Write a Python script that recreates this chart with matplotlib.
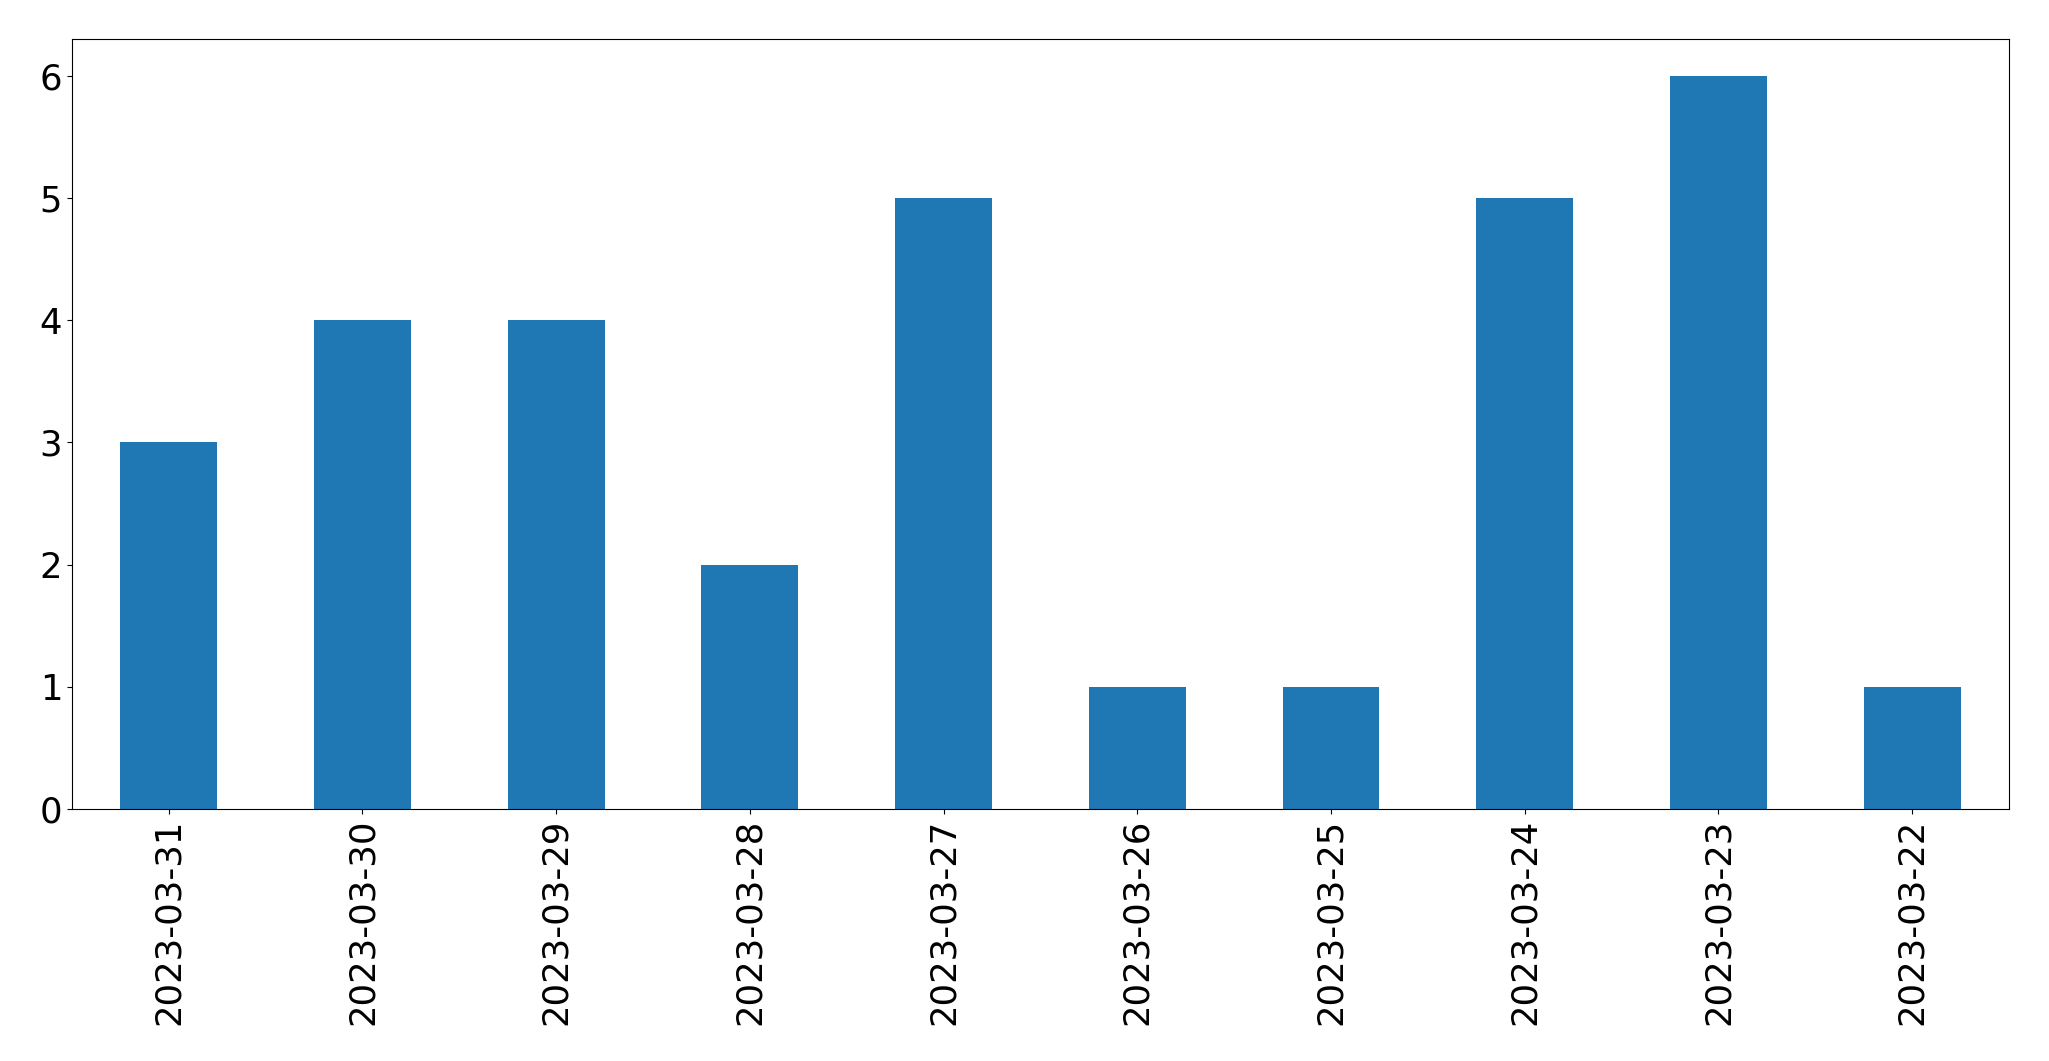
import matplotlib
matplotlib.use("Agg")
import matplotlib.pyplot as plt
import pandas as pd

# counts per day, newest first
dates = ["2023-03-31", "2023-03-30", "2023-03-29", "2023-03-28", "2023-03-27",
         "2023-03-26", "2023-03-25", "2023-03-24", "2023-03-23", "2023-03-22"]
counts = [3, 4, 4, 2, 5, 1, 1, 5, 6, 1]

s = pd.Series(counts, index=dates)

fig = plt.figure(figsize=(20.49, 10.61), dpi=100)
ax = fig.add_axes([0.0351, 0.2375, 0.9454, 0.7257])
s.plot(kind="bar", ax=ax, color="#1f77b4")
ax.tick_params(axis="both", labelsize=25.6)

fig.savefig("out.png", dpi=100)
